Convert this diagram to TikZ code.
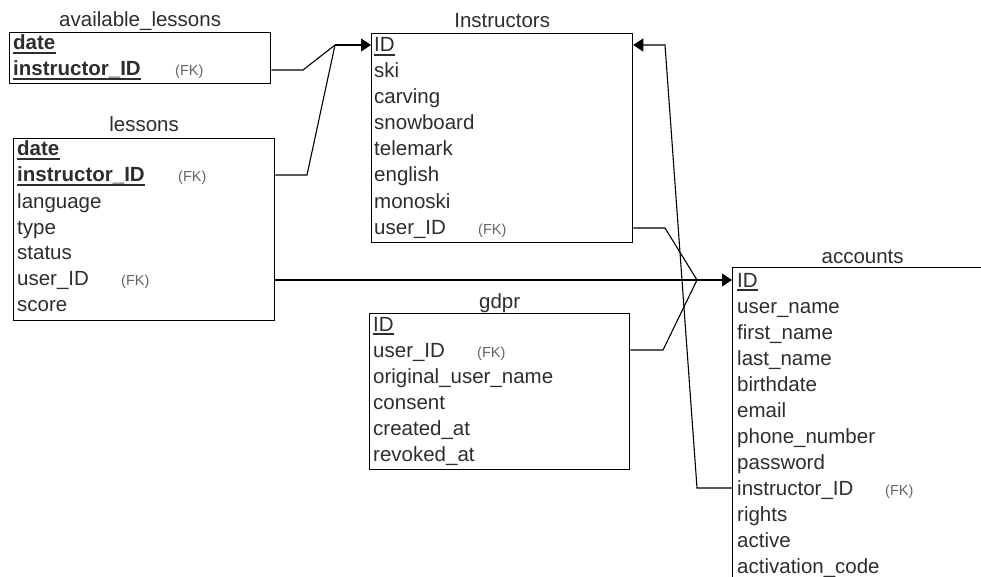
\documentclass[tikz,border=0pt]{standalone}
\usepackage{fontspec}
\setmainfont{Liberation Sans}
\usetikzlibrary{arrows.meta}
\definecolor{ink}{RGB}{45,45,45}
\definecolor{fkgray}{RGB}{100,100,100}
\begin{document}
\begin{tikzpicture}[x=1pt,y=-1pt,
  tbl/.style={draw=black,line width=1.3pt,anchor=north west,inner sep=0pt},
  field/.style={anchor=base west,inner sep=0pt,text=ink,font=\fontsize{20.5}{24}\selectfont},
  keyfield/.style={field,font=\fontsize{20.5}{24}\selectfont\bfseries},
  fk/.style={anchor=base west,inner sep=0pt,text=fkgray,font=\fontsize{14.5}{16}\selectfont},
  tabletitle/.style={anchor=base,inner sep=0pt,text=ink,font=\fontsize{20.5}{24}\selectfont},
  conn/.style={draw=black,line width=1.1pt},
  arr/.style={-{Triangle[length=10pt,width=13pt]}},
  uline/.style={draw=ink,line width=1.4pt}]
\useasboundingbox (0,0) rectangle (981,577);
\clip (0,0) rectangle (981,577);

% ---------- available_lessons ----------
\node[tbl,minimum width=261pt,minimum height=51pt] (al) at (9,32) {};
\node[tabletitle] (alt) at (al.north |- 0,27) {available\_lessons};
\node[keyfield] (al1) at (13,50) {date};
\node[keyfield] (al2) at (13,76) {instructor\_ID};
\node[fk] (alfk) at (175,76) {(FK)};
\foreach \n in {al1,al2}
  \draw[uline] ([yshift=-3pt]\n.base west) -- ([yshift=-3pt]\n.base east);

% ---------- lessons ----------
\node[tbl,minimum width=261pt,minimum height=182pt] (les) at (13,138) {};
\node[tabletitle] (lest) at (les.north |- 0,132) {lessons};
\node[keyfield] (les1) at (17,156) {date};
\node[keyfield] (les2) at (17,182) {instructor\_ID};
\node[fk] (lesfk1) at (178,182) {(FK)};
\node[field] (les3) at (17,208) {language};
\node[field] (les4) at (17,234) {type};
\node[field] (les5) at (17,259) {status};
\node[field] (les6) at (17,285) {user\_ID};
\node[fk] (lesfk2) at (121,285) {(FK)};
\node[field] (les7) at (17,311) {score};
\foreach \n in {les1,les2}
  \draw[uline] ([yshift=-3pt]\n.base west) -- ([yshift=-3pt]\n.base east);

% ---------- Instructors ----------
\node[tbl,minimum width=261pt,minimum height=209pt] (ins) at (371,33) {};
\node[tabletitle] (inst) at (ins.north |- 0,28) {Instructors};
\node[field] (ins1) at (374,52) {ID};
\foreach \t [count=\i from 2] in {ski,carving,snowboard,telemark,english,monoski,user\_ID}
  \node[field] (ins\i) at (374,{52+26*(\i-1)}) {\t};
\node[fk] (insfk) at (478,234) {(FK)};
\draw[uline] ([yshift=-3pt]ins1.base west) -- ([yshift=-3pt]ins1.base east);

% ---------- gdpr ----------
\node[tbl,minimum width=260pt,minimum height=156pt] (gd) at (369,313) {};
\node[tabletitle] (gdt) at (gd.north |- 0,308) {gdpr};
\node[field] (gd1) at (373,331) {ID};
\foreach \t [count=\i from 2] in {user\_ID,original\_user\_name,consent,created\_at,revoked\_at}
  \node[field] (gd\i) at (373,{331+26*(\i-1)}) {\t};
\node[fk] (gdfk) at (477,357) {(FK)};
\draw[uline] ([yshift=-3pt]gd1.base west) -- ([yshift=-3pt]gd1.base east);

% ---------- accounts (runs past the page edge) ----------
\node[tbl,minimum width=260pt,minimum height=400pt] (acc) at (732,267) {};
\node[tabletitle] (acct) at (acc.north |- 0,263) {accounts};
\node[field] (acc1) at (737,287) {ID};
\foreach \t [count=\i from 2] in {user\_name,first\_name,last\_name,birthdate,email,phone\_number,password,instructor\_ID,rights,active,activation\_code}
  \node[field] (acc\i) at (737,{287+26*(\i-1)}) {\t};
\node[fk] (accfk) at (885,495) {(FK)};
\draw[uline] ([yshift=-3pt]acc1.base west) -- ([yshift=-3pt]acc1.base east);

% ---------- relations ----------
% lesson tables -> Instructors.ID
\coordinate (j1) at (335,45);
\coordinate (b1) at (303,70);
\coordinate (b2) at (307,175);
\draw[conn] (al.east |- b1) -- (b1) -- (j1);
\draw[conn] (les.east |- b2) -- (b2) -- (j1);
\draw[conn,arr] (j1) -- (ins.west |- j1);

% user_ID columns -> accounts.ID
\coordinate (j2) at (697,280);
\coordinate (b3) at (665,228);
\coordinate (b4) at (663,350);
\draw[conn] (ins.east |- b3) -- (b3) -- (j2);
\draw[conn] (gd.east |- b4) -- (b4) -- (j2);
\draw[conn,arr] (les.east |- j2) -- (acc.west |- j2);

% accounts.instructor_ID -> Instructors.ID
\coordinate (b5) at (697,488);
\coordinate (b6) at (665,45);
\draw[conn,arr] (acc.west |- b5) -- (b5) -- (b6) -- (ins.east |- b6);
\end{tikzpicture}
\end{document}
